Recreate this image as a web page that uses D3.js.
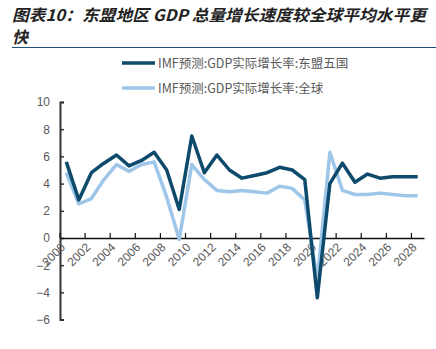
<!DOCTYPE html>
<html><head><meta charset="utf-8">
<script src="https://cdn.jsdelivr.net/npm/d3@7"></script>
<style>body{margin:0;background:#fff}svg{display:block}</style>
</head><body>
<svg id="c" width="436" height="349"></svg>
<script>
const years = d3.range(2000, 2029);
const tickYears = d3.range(2000, 2029, 2);
const asean5 = [5.6,2.8,4.8,5.5,6.1,5.3,5.7,6.3,5.0,2.1,7.5,4.8,6.1,5.0,4.4,4.6,4.8,5.2,5.0,4.3,-4.4,4.0,5.5,4.1,4.7,4.4,4.5,4.5,4.5];
const world  = [4.8,2.5,2.9,4.3,5.4,4.9,5.4,5.6,3.0,-0.1,5.4,4.3,3.5,3.4,3.5,3.4,3.3,3.8,3.65,2.8,-3.1,6.3,3.5,3.2,3.2,3.3,3.2,3.1,3.1];
const yTicks = [-6,-4,-2,0,2,4,6,8,10];
const seriesNames = ["IMF预测:GDP实际增长率:东盟五国","IMF预测:GDP实际增长率:全球"];
const colors = ["#0d4a6b","#9dc6e9"];

const svg = d3.select("#c");
svg.append("text").attr("x",12).attr("y",21).attr("font-family","Noto Sans CJK SC")
  .attr("font-size",16).attr("font-weight","bold").attr("font-style","italic").attr("fill","#222")
  .attr("textLength",414).attr("lengthAdjust","spacingAndGlyphs")
  .text("图表10：东盟地区 GDP 总量增长速度较全球平均水平更");
svg.append("text").attr("x",12).attr("y",43).attr("font-family","Noto Sans CJK SC")
  .attr("font-size",16).attr("font-weight","bold").attr("font-style","italic").attr("fill","#222")
  .text("快");
svg.append("line").attr("x1",12).attr("x2",436).attr("y1",47.5).attr("y2",47.5)
  .attr("stroke","#1f4e79").attr("stroke-width",1.2);

const x = d3.scaleBand().domain(years).range([60,424]);
const y = d3.scaleLinear().domain([-6,10]).range([319.6,102]);

// legend
seriesNames.forEach((n,i)=>{
  const ly = 63 + i*25;
  svg.append("line").attr("x1",122).attr("x2",155).attr("y1",ly).attr("y2",ly)
    .attr("stroke",colors[i]).attr("stroke-width",3.5);
  svg.append("text").attr("x",158).attr("y",ly+4.5).attr("font-family","Noto Sans CJK SC, Arial")
    .attr("font-size",12.5).attr("fill","#595959").text(n);
});

// y axis
const ya = svg.append("g").attr("transform","translate(60,0)")
  .call(d3.axisLeft(y).tickValues(yTicks).tickSize(-4).tickPadding(10).tickFormat(d3.format("d")));
ya.select(".domain").attr("stroke","#333").attr("stroke-width",2);
ya.selectAll(".tick line").attr("stroke","#333").attr("stroke-width",1.5);
ya.selectAll("text").attr("font-family","Liberation Sans, Arial").attr("font-size",12).attr("fill","#595959");

// x axis at zero
const xa = svg.append("g").attr("transform",`translate(0,${y(0)})`)
  .call(d3.axisBottom(x).tickValues(tickYears).tickSize(-5).tickSizeOuter(0).tickFormat(d=>d));
xa.select(".domain").attr("stroke","#111").attr("stroke-width",1.5);
xa.selectAll(".tick").attr("transform",d=>`translate(${x(d)},0)`);
xa.selectAll(".tick line").attr("stroke","#111").attr("stroke-width",1.2);
xa.selectAll("text").attr("font-family","Liberation Sans, Arial").attr("font-size",12).attr("fill","#595959")
  .attr("text-anchor","end").attr("dy",0).attr("dx",0).attr("y",0)
  .attr("transform","translate(6,10) rotate(-45)");

const line = d3.line().x((d,i)=>x(years[i])+x.bandwidth()/2).y(d=>y(d));
[world, asean5].forEach((s,k)=>{
  const i = k===0?1:0;
  svg.append("path").attr("d",line(s)).attr("fill","none")
    .attr("stroke",colors[i]).attr("stroke-width",3.5).attr("stroke-linejoin","round");
});
</script>
</body></html>
